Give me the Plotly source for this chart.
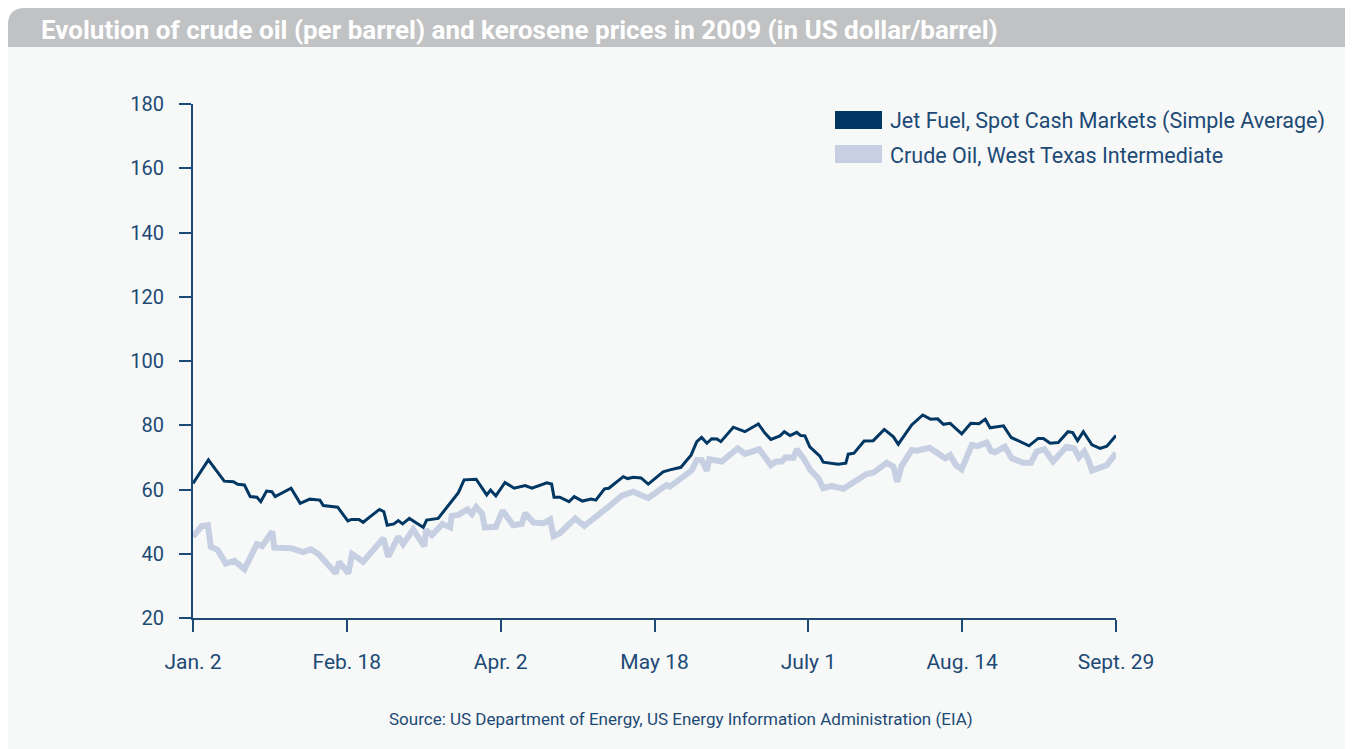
import plotly.graph_objects as go

# ---- data (x = trading-day position, ticks every 32 positions) ----
tick_pos = [0, 32, 64, 96, 128, 160, 192]
tick_labels = ["Jan. 2", "Feb. 18", "Apr. 2", "May 18", "July 1", "Aug. 14", "Sept. 29"]

jet_x = [0, 3.2, 6.5, 8.4, 9.3, 10.7, 11.9, 13.3, 14.1, 15.3, 16.4, 17.1, 20.4, 22.3, 24.3, 26.4,
         27.1, 30.1, 32.2, 33.0, 34.5, 35.4, 36.8, 38.8, 39.7, 40.4, 41.8, 42.7, 43.6, 45.0, 47.9,
         48.6, 51.0, 55.2, 56.4, 58.9, 61.1, 61.9, 63.0, 64.9, 66.8, 69.1, 70.5, 73.6, 74.6, 75.1,
         76.3, 78.2, 79.3, 81.0, 82.8, 83.8, 85.6, 86.5, 89.5, 90.4, 91.6, 93.2, 94.7, 97.8, 99.2,
         101.5, 102.5, 103.6, 104.8, 105.8, 106.9, 107.9, 109.0, 109.8, 112.4, 114.8, 117.6, 119.0,
         120.2, 122.1, 123.0, 124.2, 125.6, 126.4, 127.3, 128.3, 130.4, 131.1, 134.2, 135.8, 136.3,
         137.5, 139.6, 141.5, 143.8, 145.7, 146.7, 149.5, 151.8, 153.4, 154.9, 156.1, 157.5, 159.9,
         161.8, 163.5, 164.8, 165.8, 168.6, 170.2, 173.9, 175.8, 176.9, 178.3, 180.0, 182.0, 183.0,
         184.0, 185.2, 187.0, 188.7, 190.1, 192.0]
jet_y = [61.9, 69.2, 62.6, 62.4, 61.6, 61.4, 57.8, 57.6, 56.2, 59.5, 59.3, 57.8, 60.4, 55.7, 57.0, 56.7,
         55.0, 54.5, 50.2, 50.7, 50.7, 49.8, 51.5, 53.8, 53.1, 48.9, 49.3, 50.3, 49.3, 51.0, 48.2,
         50.5, 51.0, 59.0, 63.0, 63.2, 58.3, 59.8, 58.0, 62.2, 60.4, 61.2, 60.4, 62.1, 61.7, 57.6,
         57.6, 56.2, 57.8, 56.4, 57.0, 56.7, 60.2, 60.4, 64.0, 63.4, 63.8, 63.6, 61.7, 65.5, 66.1,
         66.9, 68.7, 70.7, 74.9, 76.2, 74.4, 75.8, 75.7, 74.9, 79.4, 78.0, 80.4, 77.5,
         75.6, 76.7, 78.0, 76.8, 77.8, 76.8, 76.7, 73.3, 70.4, 68.5, 67.9, 68.2, 71.0,
         71.3, 75.1, 75.2, 78.7, 76.4, 74.1, 80.1, 83.2, 81.9, 82.0, 80.3, 80.6, 77.3,
         80.6, 80.5, 81.9, 79.2, 79.8, 76.2, 73.6, 75.9, 75.9, 74.4, 74.6, 78.0, 77.7,
         75.2, 78.0, 73.9, 72.8, 73.5, 76.8]

wti_x = [0, 1.8, 3.1, 3.7, 5.1, 6.8, 8.6, 10.7, 13.3, 14.4, 16.5, 16.9, 20.5, 22.9, 24.5, 26.1, 29.7,
         30.4, 32.3, 33.1, 35.4, 39.6, 40.6, 42.7, 43.7, 45.8, 48.1, 48.5, 49.7, 51.9, 53.5, 53.8,
         55.2, 57.1, 58.0, 58.9, 60.1, 60.7, 63.0, 64.4, 66.6, 68.4, 69.1, 70.8, 72.9, 74.3, 75.0,
         76.3, 79.5, 81.4, 86.4, 89.2, 91.6, 94.7, 98.5, 99.2, 103.7, 104.8, 105.8, 106.9, 107.4,
         110.0, 113.3, 114.8, 117.8, 120.2, 121.3, 122.5, 123.2, 124.9, 125.6, 127.0, 128.4, 130.1,
         131.1, 132.9, 135.3, 140.1, 141.5, 144.3, 145.7, 146.5, 147.4, 149.5, 150.6, 153.2, 156.5,
         157.5, 158.7, 159.9, 162.0, 163.2, 165.1, 166.0, 166.8, 168.9, 170.3, 172.7, 174.3, 175.5,
         177.1, 178.9, 181.7, 183.3, 184.3, 185.4, 186.2, 187.0, 190.1, 192.0]
wti_y = [45.3, 48.6, 48.9, 42.2, 41.2, 37.0, 37.8, 35.2, 43.0, 42.4, 46.9, 41.9, 41.7, 40.5, 41.4, 39.9, 33.9,
         37.5, 33.9, 39.9, 37.5, 44.8, 39.1, 45.3, 43.0, 47.6, 42.4, 47.4, 45.8, 49.3, 48.2, 51.8,
         52.1, 53.8, 52.4, 54.5, 52.6, 48.2, 48.4, 53.4, 48.9, 49.3, 52.6, 49.7, 49.5, 50.7, 45.5,
         46.4, 51.0, 48.7, 54.6, 58.1, 59.3, 57.3, 61.4, 60.9, 65.9, 69.2, 69.2, 65.9, 69.4,
         68.7, 72.8, 71.1, 72.5, 67.6, 68.7, 68.7, 70.0, 69.9, 72.5, 69.7, 66.1, 63.5,
         60.4, 61.1, 60.2, 64.8, 65.2, 68.3, 67.1, 62.4, 67.3, 72.3, 72.1, 73.0, 69.7,
         70.7, 67.6, 66.3, 73.9, 73.5, 74.6, 72.0, 71.6, 73.3, 69.7, 68.3, 68.3, 71.8,
         72.5, 68.7, 73.3, 72.8, 70.0, 71.8, 69.4, 65.9, 67.6, 71.3]

series_names = ["Jet Fuel, Spot Cash Markets (Simple Average)", "Crude Oil, West Texas Intermediate"]
title_text = "Evolution of crude oil (per barrel) and kerosene prices in 2009 (in US dollar/barrel)"
source_text = "Source: US Department of Energy, US Energy Information Administration (EIA)"

# ---- styling ----
OFF = 8                      # page margin of the browser body
W, H = 1353 - OFF, 749 - OFF
L, R, T, B = 193 - OFF, 1116 - OFF, 104 - OFF, 618 - OFF
DARK = "#003763"
LIGHT = "#c6d0e2"
TXT = "#1c4a75"
PANEL = "#f7f8f8"
BAND = "#c0c2c4"
FONT = "Roboto, Liberation Sans Narrow, Arial"


def px(x):
    """screen x (reference pixels) -> paper coordinate"""
    return (x - OFF - L) / (R - L)


def py(y):
    """screen y (reference pixels) -> paper coordinate"""
    return (B - (y - OFF)) / (B - T)


fig = go.Figure()
fig.add_trace(go.Scatter(x=wti_x, y=wti_y, mode="lines", name=series_names[1],
                         line=dict(color=LIGHT, width=6), showlegend=False))
fig.add_trace(go.Scatter(x=jet_x, y=jet_y, mode="lines", name=series_names[0],
                         line=dict(color=DARK, width=3), showlegend=False))

shapes = []
# header band with rounded top-left corner
rad = 17
x0, x1, y0, y1 = 8, 1360, 8, 47
path = (f"M {px(x0)},{py(y1)} L {px(x0)},{py(y0 + rad)} "
        f"Q {px(x0)},{py(y0)} {px(x0 + rad)},{py(y0)} "
        f"L {px(x1)},{py(y0)} L {px(x1)},{py(y1)} Z")
shapes.append(dict(type="path", xref="paper", yref="paper", path=path,
                   fillcolor=BAND, line=dict(width=0), layer="below"))
# white corner behind the rounded header
shapes.insert(0, dict(type="rect", xref="paper", yref="paper", x0=px(7), x1=px(8 + rad), y0=py(8 + rad),
                      y1=py(7), fillcolor="white", line=dict(width=0), layer="below"))
# legend swatches
shapes.append(dict(type="rect", xref="paper", yref="paper", x0=px(835), x1=px(882), y0=py(129), y1=py(111),
                   fillcolor=DARK, line=dict(width=0)))
shapes.append(dict(type="rect", xref="paper", yref="paper", x0=px(835), x1=px(882), y0=py(163), y1=py(145),
                   fillcolor=LIGHT, line=dict(width=0)))

annotations = [
    dict(text=f"<b>{title_text}</b>", xref="paper", yref="paper", x=px(39), y=py(30),
         xanchor="left", yanchor="middle", showarrow=False,
         font=dict(family=FONT, size=26, color="white")),
    dict(text=series_names[0], xref="paper", yref="paper", x=px(888), y=py(121),
         xanchor="left", yanchor="middle", showarrow=False,
         font=dict(family=FONT, size=21.5, color=TXT)),
    dict(text=series_names[1], xref="paper", yref="paper", x=px(888), y=py(155),
         xanchor="left", yanchor="middle", showarrow=False,
         font=dict(family=FONT, size=21.5, color=TXT)),
    dict(text=source_text, xref="paper", yref="paper", x=px(681), y=py(719),
         xanchor="center", yanchor="middle", showarrow=False,
         font=dict(family=FONT, size=17, color=TXT)),
]

fig.update_layout(
    width=W, height=H,
    margin=dict(l=L, r=W - R, t=T, b=H - B, pad=0),
    paper_bgcolor=PANEL, plot_bgcolor=PANEL,
    shapes=shapes, annotations=annotations,
    font=dict(family=FONT, color=TXT, size=20),
    xaxis=dict(range=[0, 192], tickmode="array", tickvals=tick_pos, ticktext=tick_labels,
               showgrid=False, zeroline=False, showline=True, linecolor=TXT, linewidth=2,
               ticks="outside", ticklen=12, tickwidth=2, tickcolor=TXT,
               tickfont=dict(family=FONT, size=21, color=TXT), ticklabelstandoff=12),
    yaxis=dict(range=[20, 180], tickmode="array", tickvals=list(range(20, 181, 20)),
               showgrid=False, zeroline=False, showline=True, linecolor=TXT, linewidth=2,
               ticks="outside", ticklen=12, tickwidth=2, tickcolor=TXT,
               tickfont=dict(family=FONT, size=20, color=TXT), ticklabelstandoff=11),
)

fig.write_html("out.html")
